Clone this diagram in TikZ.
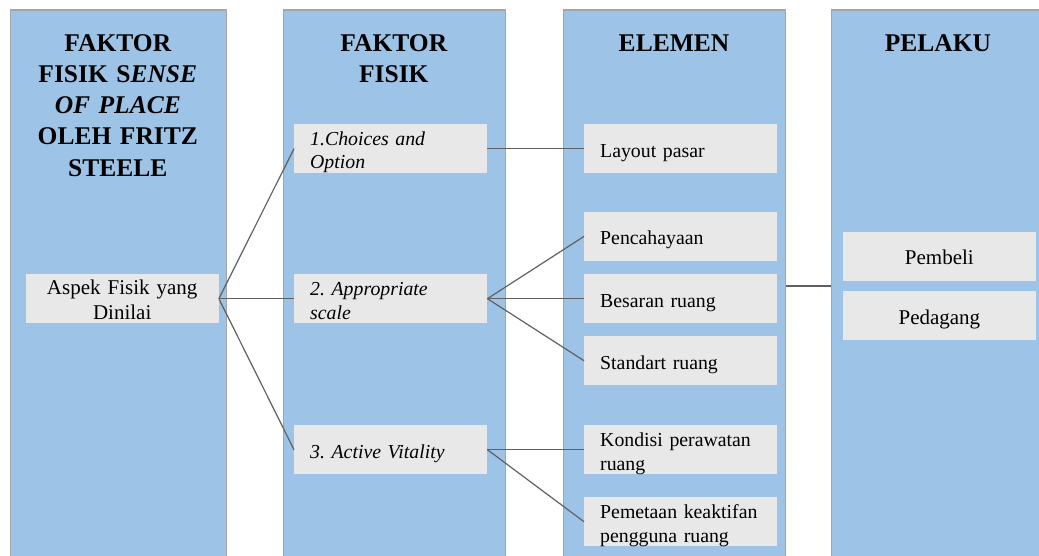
\documentclass[tikz,border=0pt]{standalone}
\usepackage{fontspec}
\setmainfont{Liberation Serif}
\usetikzlibrary{calc}
\definecolor{colfill}{HTML}{9DC3E6}
\definecolor{colline}{HTML}{A5A5A5}
\definecolor{boxfill}{HTML}{E8E8E8}
\definecolor{linkgray}{HTML}{606060}
\frenchspacing
\begin{document}
\frenchspacing
\begin{tikzpicture}[x=1pt,y=-1pt,
  column/.style={draw=colline, line width=1.3pt, fill=colfill, anchor=north west, minimum height=580pt, inner sep=0pt},
  header/.style={anchor=base, text width=215pt, align=center, inner sep=0pt, font=\fontsize{25.5}{31.1}\selectfont\bfseries},
  itembox/.style={fill=boxfill, draw=none, anchor=north west, minimum width=193pt, minimum height=49pt, inner xsep=16pt, inner ysep=0pt, text width=161pt, font=\fontsize{19.8}{23.5}\selectfont},
  bigtext/.style={font=\fontsize{21}{24.5}\selectfont},
  oneline/.style={text height=33pt, text depth=16pt},
  twoline/.style={text height=21.3pt, text depth=27.7pt},
  link/.style={draw=linkgray, line width=1.2pt}]
\useasboundingbox (0,0) rectangle (1039,556);
\clip (0,0) rectangle (1039,556);
% columns
\node[column, minimum width=215.7pt] (col1) at (10,9.5) {};
\node[column, minimum width=222.5pt] (col2) at (282.5,9.5) {};
\node[column, minimum width=222pt] (col3) at (563,9.5) {};
\node[column, minimum width=222pt] (col4) at (831,9.5) {};
% headers
\node[header] (h1) at (117.8,51.7) {FAKTOR\\FISIK S\textit{ENSE}\\\textit{OF PLACE}\\OLEH FRITZ\\STEELE};
\node[header] (h2) at (393.8,51.7) {FAKTOR\\FISIK};
\node[header] (h3) at (674,51.7) {ELEMEN};
\node[header] (h4) at (938,51.7) {PELAKU};
% boxes
\node[itembox, bigtext, twoline, text height=20.5pt, text depth=28.5pt, align=center] (aspect) at (25.5,274) {Aspek Fisik yang\\Dinilai};
\node[itembox, twoline, align=left] (choices) at (294,124) {\textit{1.Choices and}\\\textit{Option}};
\node[itembox, twoline, align=left] (approp) at (294,274) {\textit{2. Appropriate}\\\textit{scale}};
\node[itembox, oneline, align=left] (active) at (294,425) {\textit{3. Active Vitality}};
\node[itembox, oneline, align=left] (layout) at (584,124) {Layout pasar};
\node[itembox, oneline, align=left] (cahaya) at (584,211.7) {Pencahayaan};
\node[itembox, oneline, align=left] (besaran) at (584,274) {Besaran ruang};
\node[itembox, oneline, align=left] (standart) at (584,336) {Standart ruang};
\node[itembox, twoline, align=left] (kondisi) at (584,425) {Kondisi perawatan\\ruang};
\node[itembox, twoline, align=left] (pemetaan) at (584,497) {Pemetaan keaktifan\\pengguna ruang};
\node[itembox, bigtext, oneline, align=center] (pembeli) at (842.7,231.7) {Pembeli};
\node[itembox, bigtext, oneline, align=center] (pedagang) at (842.7,291) {Pedagang};
% connectors
\draw[link] (aspect.east) -- (choices.west);
\draw[link] (aspect.east) -- (approp.west);
\draw[link] (aspect.east) -- (active.west);
\draw[link] (choices.east) -- (layout.west);
\draw[link] (approp.east) -- (cahaya.west);
\draw[link] (approp.east) -- (besaran.west);
\draw[link] (approp.east) -- (standart.west);
\draw[link] (active.east) -- (kondisi.west);
\draw[link] (active.east) -- (pemetaan.west);
\coordinate (mid) at ($(pembeli.south)!0.5!(pedagang.north)$);
\draw[link] (col3.east |- mid) -- (col4.west |- mid);
\end{tikzpicture}
\end{document}
